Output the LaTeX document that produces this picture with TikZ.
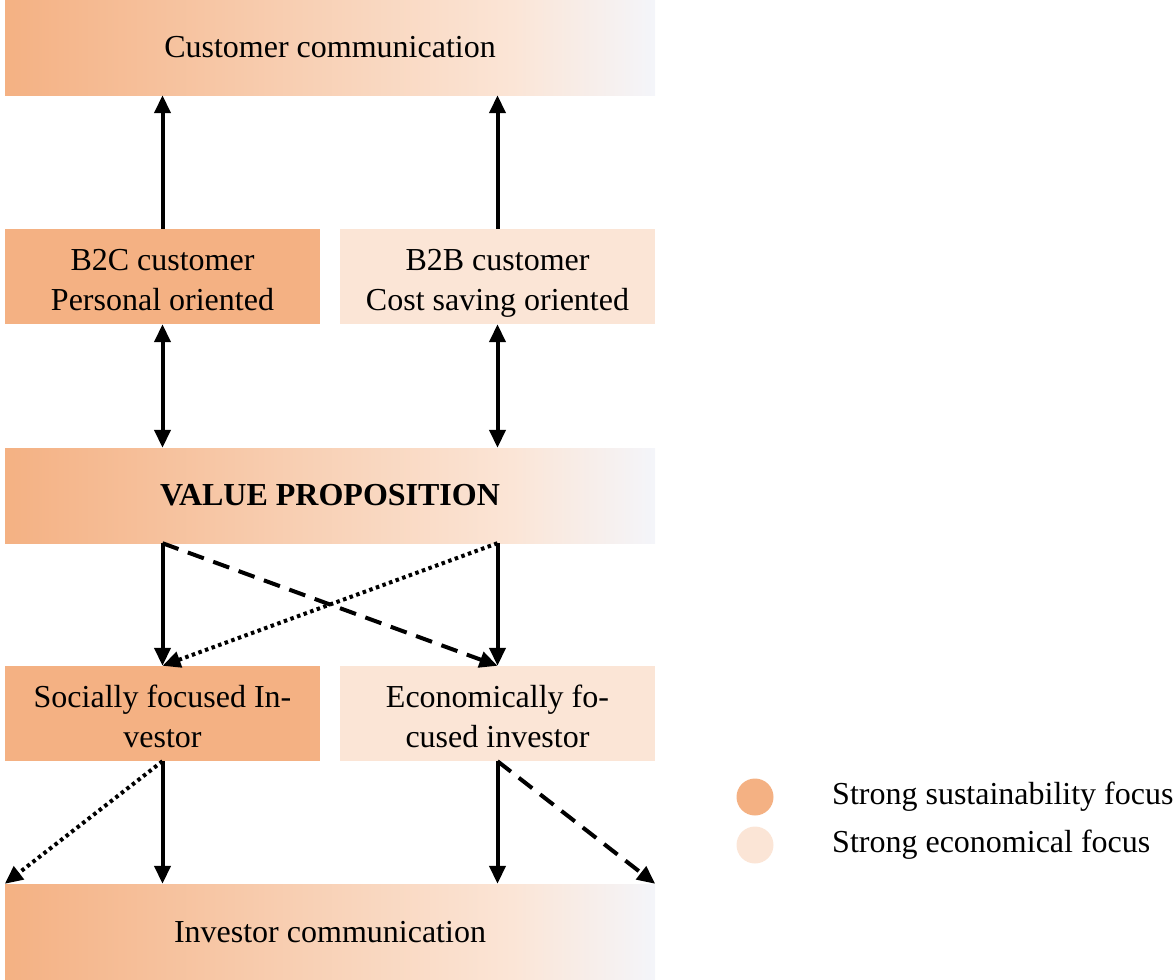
\documentclass[tikz,border=0pt]{standalone}
\usepackage{fontspec}
\setmainfont{Liberation Serif}
\usetikzlibrary{positioning, calc, arrows.meta}
\definecolor{sustain}{HTML}{F4B183}
\definecolor{econ}{HTML}{FBE5D6}
\definecolor{paleend}{HTML}{F4F5FA}
\pgfdeclarehorizontalshading{bandshade}{100bp}{color(0bp)=(sustain); color(25bp)=(sustain); color(64bp)=(econ); color(75bp)=(paleend); color(100bp)=(paleend)}
\newcommand{\low}[1]{\raisebox{-5.5pt}[\height][\depth]{\strut #1}}
\tikzset{
    txt/.style={font=\fontsize{32}{40}\selectfont, align=center, inner sep=0pt},
    band/.style={txt, rectangle, minimum width=650pt, minimum height=95pt, shading=bandshade},
    sustbox/.style={txt, rectangle, minimum width=315pt, minimum height=95pt, fill=sustain},
    econbox/.style={txt, rectangle, minimum width=315pt, minimum height=95pt, fill=econ},
    link/.style={line width=4pt, -{Triangle[length=18pt,width=16pt]}},
    twoway/.style={line width=4pt, {Triangle[length=18pt,width=16pt]}-{Triangle[length=18pt,width=16pt]}},
    dashlink/.style={link, dash pattern=on 17pt off 10pt},
    dotlink/.style={link, dash pattern=on 3.5pt off 3.5pt}
}
\begin{document}
\begin{tikzpicture}[x=1pt,y=-1pt]
        \useasboundingbox (0,0) rectangle (1173,980);
        %fasce
        \node[band] (cust) at (330,47.5) {Customer communication};
        \node[band] (vp) at (330,495.5) {\textbf{VALUE PROPOSITION}};
        \node[band, minimum height=96pt] (invc) at (330,932) {Investor communication};
        %clienti
        \node[sustbox] (b2c) at (162.5,276.5) {\low{B2C customer}\\\low{Personal oriented}};
        \node[econbox] (b2b) at (497.5,276.5) {\low{B2B customer}\\\low{Cost saving oriented}};
        %investitori
        \node[sustbox] (soc) at (162.5,713.5) {\low{Socially focused In-}\\\low{vestor}};
        \node[econbox] (eco) at (497.5,713.5) {\low{Economically fo-}\\\low{cused investor}};
        %frecce clienti
        \draw[link] (b2c.north) -- (b2c.north |- cust.south);
        \draw[link] (b2b.north) -- (b2b.north |- cust.south);
        \draw[twoway] (b2c.south) -- (b2c.south |- vp.north);
        \draw[twoway] (b2b.south) -- (b2b.south |- vp.north);
        %frecce investitori
        \draw[link] (vp.south -| soc.north) -- (soc.north);
        \draw[link] (vp.south -| eco.north) -- (eco.north);
        \draw[dashlink] (vp.south -| soc.north) -- (eco.north);
        \draw[dotlink] (vp.south -| eco.north) -- (soc.north);
        \draw[link] (soc.south) -- (soc.south |- invc.north);
        \draw[link] (eco.south) -- (eco.south |- invc.north);
        \draw[dotlink] (soc.south) -- (invc.north west);
        \draw[dashlink] (eco.south) -- (invc.north east);
        %legenda
        \node[circle, fill=sustain, minimum size=37pt, inner sep=0pt] (legsust) at (755,797) {};
        \node[circle, fill=econ, minimum size=37pt, inner sep=0pt] (legecon) at (755,845) {};
        \node[txt, anchor=west] (legsusttxt) at (832,797) {Strong sustainability focus};
        \node[txt, anchor=west] (legecontxt) at (832,845) {Strong economical focus};
\end{tikzpicture}
\end{document}
